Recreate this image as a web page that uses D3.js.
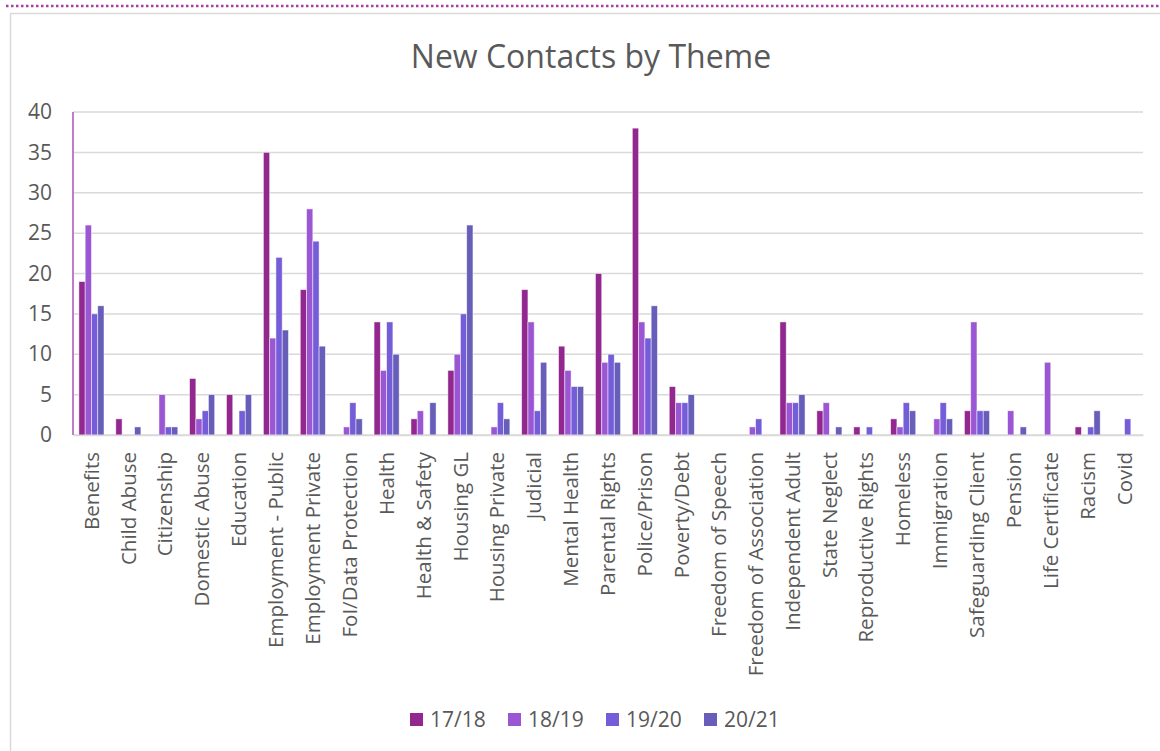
<!DOCTYPE html>
<html>
<head>
<meta charset="utf-8">
<script src="https://cdn.jsdelivr.net/npm/d3@7"></script>
<style>
  body { margin: 0; background: #fff; }
  svg text { font-family: "Open Sans", sans-serif; fill: #595959; }
</style>
</head>
<body>
<div id="chart"></div>
<script>
var themes = ["Benefits", "Child Abuse", "Citizenship", "Domestic Abuse", "Education",
    "Employment - Public", "Employment Private", "FoI/Data Protection", "Health",
    "Health & Safety", "Housing GL", "Housing Private", "Judicial", "Mental Health",
    "Parental Rights", "Police/Prison", "Poverty/Debt", "Freedom of Speech",
    "Freedom of Association", "Independent Adult", "State Neglect", "Reproductive Rights",
    "Homeless", "Immigration", "Safeguarding Client", "Pension", "Life Certificate",
    "Racism", "Covid"];
var years = ["17/18", "18/19", "19/20", "20/21"];
var y1718 = [19, 2, 0, 7, 5, 35, 18, 0, 14, 2, 8, 0, 18, 11, 20, 38, 6, 0, 0, 14, 3, 1, 2, 0, 3, 0, 0, 1, 0];
var y1819 = [26, 0, 5, 2, 0, 12, 28, 1, 8, 3, 10, 1, 14, 8, 9, 14, 4, 0, 1, 4, 4, 0, 1, 2, 14, 3, 9, 0, 0];
var y1920 = [15, 0, 1, 3, 3, 22, 24, 4, 14, 0, 15, 4, 3, 6, 10, 12, 4, 0, 2, 4, 0, 1, 4, 4, 3, 0, 0, 1, 2];
var y2021 = [16, 1, 1, 5, 5, 13, 11, 2, 10, 4, 26, 2, 9, 6, 9, 16, 5, 0, 0, 5, 1, 0, 3, 2, 3, 1, 0, 3, 0];
var yTicks = [0, 5, 10, 15, 20, 25, 30, 35, 40];
var colours = ["#92278f", "#9b57d3", "#755dd9", "#665eb8"];

var series = [y1718, y1819, y1920, y2021];

var W = 1160, H = 751;
var margin = {top: 112, right: 17, bottom: 316, left: 73},
    width = W - margin.left - margin.right,
    height = H - margin.top - margin.bottom;

var root = d3.select("#chart").append("svg")
    .attr("width", W)
    .attr("height", H);

// dotted line above the chart box
root.append("line")
    .attr("x1", 6).attr("x2", W)
    .attr("y1", 6).attr("y2", 6)
    .attr("stroke", "#a53fa8")
    .attr("stroke-width", 2.5)
    .attr("stroke-dasharray", "2.5,2.5");

// chart area border (runs off the right and bottom of the picture)
root.append("rect")
    .attr("x", 10.5).attr("y", 13.5)
    .attr("width", W + 20).attr("height", H + 20)
    .attr("fill", "none")
    .attr("stroke", "#d9d9d9")
    .attr("stroke-width", 1.5);

root.append("text")
    .attr("x", 591)
    .attr("y", 68)
    .attr("text-anchor", "middle")
    .style("font-size", "32px")
    .text("New Contacts by Theme");

var svg = root.append("g")
    .attr("transform", "translate(" + margin.left + "," + margin.top + ")");

var x0 = d3.scaleBand()
    .domain(themes)
    .range([0, width])
    .paddingInner(0.32)
    .paddingOuter(0.16);

var x1 = d3.scaleBand()
    .domain(years)
    .range([0, x0.bandwidth()]);

var y = d3.scaleLinear()
    .domain([0, 40])
    .range([height, 0]);

// gridlines
svg.append("g")
    .selectAll("line")
    .data(yTicks)
    .enter()
    .append("line")
    .attr("x1", 0)
    .attr("x2", width)
    .attr("y1", function (d) { return y(d); })
    .attr("y2", function (d) { return y(d); })
    .attr("stroke", "#d9d9d9")
    .attr("stroke-width", 1.5);

// y tick labels
var yAxis = svg.append("g")
    .attr("transform", "translate(-21,0)")
    .call(d3.axisLeft(y).tickValues(yTicks).tickSize(0).tickPadding(0));
yAxis.select(".domain").remove();
yAxis.selectAll("text")
    .style("font-size", "21px")
    .style("font-family", "Open Sans, sans-serif")
    .attr("fill", "#595959");

// bars
var groups = svg.append("g")
    .selectAll("g")
    .data(themes)
    .enter()
    .append("g")
    .attr("transform", function (d) { return "translate(" + x0(d) + ",0)"; });

groups.selectAll("rect")
    .data(function (d, i) {
        return years.map(function (yr, j) { return {year: yr, value: series[j][i], k: j}; });
    })
    .enter()
    .append("rect")
    .filter(function (d) { return d.value > 0; })
    .attr("x", function (d) { return x1(d.year); })
    .attr("y", function (d) { return y(d.value); })
    .attr("width", x1.bandwidth())
    .attr("height", function (d) { return height - y(d.value); })
    .attr("fill", function (d) { return colours[d.k]; })
    .attr("stroke", "#ffffff")
    .attr("stroke-opacity", 0.6)
    .attr("stroke-width", 0.8);

// left axis line
svg.append("line")
    .attr("x1", 0).attr("x2", 0)
    .attr("y1", 0).attr("y2", height)
    .attr("stroke", "#c27bc8")
    .attr("stroke-width", 2);

// x axis
var xAxis = svg.append("g")
    .attr("transform", "translate(0," + height + ")")
    .call(d3.axisBottom(x0).tickSize(0).tickPadding(0));
xAxis.select(".domain")
    .attr("stroke", "#d9d9d9")
    .attr("stroke-width", 1.5);
xAxis.selectAll("text")
    .style("font-size", "20.5px")
    .style("font-family", "Open Sans, sans-serif")
    .attr("fill", "#595959")
    .attr("transform", "rotate(-90)")
    .attr("text-anchor", "end")
    .attr("x", -17)
    .attr("y", 0)
    .attr("dy", "0.35em");

// legend
var legendX = [410, 508, 606, 704];
var legend = root.append("g")
    .selectAll("g")
    .data(years)
    .enter()
    .append("g")
    .attr("transform", function (d, i) { return "translate(" + legendX[i] + ",713)"; });

legend.append("rect")
    .attr("width", 13)
    .attr("height", 13)
    .attr("fill", function (d, i) { return colours[i]; });

legend.append("text")
    .attr("x", 20)
    .attr("y", 7)
    .attr("dy", "0.35em")
    .style("font-size", "21px")
    .text(function (d) { return d; });
</script>
</body>
</html>
